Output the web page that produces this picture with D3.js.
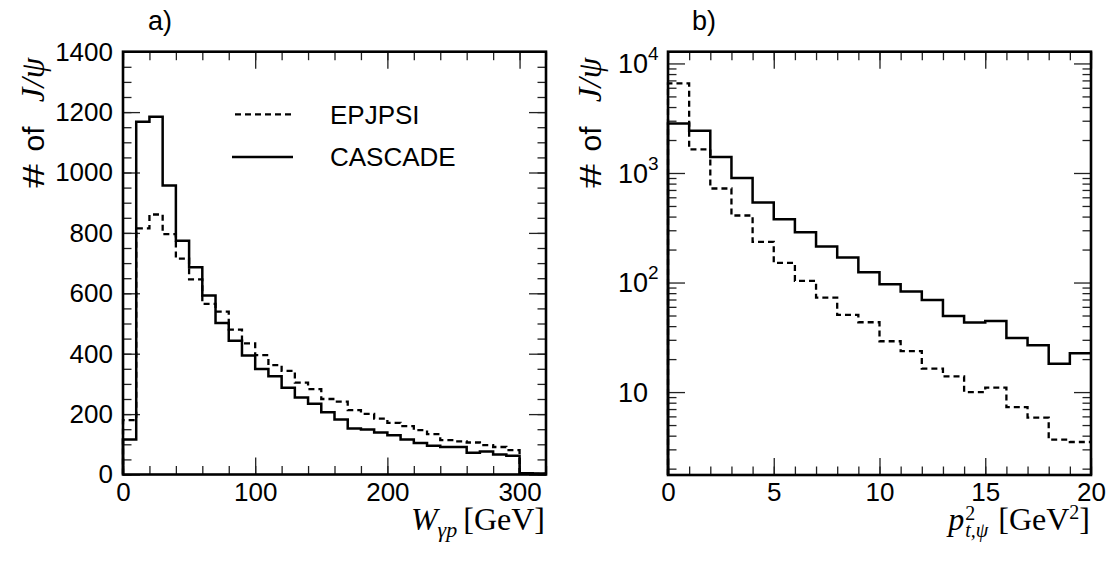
<!DOCTYPE html>
<html><head><meta charset="utf-8">
<script src="https://cdn.jsdelivr.net/npm/d3@7"></script>
<style>
body{margin:0;background:#fff}
text{fill:#000}
.sans{font-family:"Liberation Sans",Arial,sans-serif}
.serif{font-family:"Liberation Serif","DejaVu Serif",serif}
</style>
</head><body>
<svg id="c" width="1112" height="562"></svg>
<script>
// ---------- data ----------
const wBins = [0,10,20,30,40,50,60,70,80,90,100,110,120,130,140,150,160,170,180,190,200,210,220,230,240,250,260,270,280,290,300,310];
const wBinWidth = 10;
const cascadeW = [116,1168,1185,957,774,686,593,502,443,394,349,325,287,255,234,206,182,152,149,139,130,116,104,95,91,91,72,76,66,62,4,3];
const epjpsiW  = [180,815,861,796,715,646,565,539,480,434,395,362,343,304,283,250,241,213,201,185,171,160,147,134,114,110,106,97,91,81,4,2];

const ptBins = [0,1,2,3,4,5,6,7,8,9,10,11,12,13,14,15,16,17,18,19];
const ptBinWidth = 1;
const cascadePt = [2830,2424,1403,902,538,378,288,213,169,124,96.5,82.8,69.4,49.5,43.1,44.6,31.2,26.7,18.1,22.6];
const epjpsiPt  = [6566,1640,722,409,235,151,103.5,72.9,50.6,43.4,29.1,23.7,16.4,13.9,10,11.0,7.3,5.85,3.68,3.5];

const wTicks = [0,100,200,300];
const wTicksMinor = d3.range(0,321,20);
const wYTicks = [0,200,400,600,800,1000,1200,1400];
const wYTicksMinor = d3.range(0,1401,50);
const ptTicks = [0,5,10,15,20];
const ptTicksMinor = d3.range(0,21,1);
const ptYTicks = [10,100,1000,10000];
const ptYLabels = [["10",""],["10","2"],["10","3"],["10","4"]];
const legendNames = ["EPJPSI","CASCADE"];

// ---------- setup ----------
const svg = d3.select("#c");
const DASH = "6,4";

function histPath(bins, vals, bw, x, y, y0) {
  const pts = [];
  pts.push([bins[0], y0]);
  bins.forEach((b,i)=>{ pts.push([b, vals[i]]); pts.push([b+bw, vals[i]]); });
  return d3.line().x(d=>x(d[0])).y(d=>y(d[1]))(pts);
}

function frameAxes(g, x, y, xMaj, xMin, yMaj, yMin, isLog) {
  const [x0,x1] = x.range(), [y0,y1] = y.range();
  const tickStyle = sel => { sel.select(".domain").remove();
    sel.selectAll(".tick line").attr("stroke","#222").attr("stroke-width",1.3); };
  g.append("g").attr("transform",`translate(0,${y0})`)
    .call(d3.axisBottom(x).tickValues(xMin).tickSize(-8.5).tickFormat("")).call(tickStyle);
  g.append("g").attr("transform",`translate(0,${y0})`)
    .call(d3.axisBottom(x).tickValues(xMaj).tickSize(-17).tickPadding(8).tickFormat(d3.format("d")))
    .call(tickStyle)
    .call(s=>s.selectAll("text").attr("class","sans").attr("font-size",26).attr("fill","#000"));
  g.append("g").attr("transform",`translate(0,${y1})`)
    .call(d3.axisTop(x).tickValues(xMin).tickSize(-8.5).tickFormat("")).call(tickStyle);
  g.append("g").attr("transform",`translate(0,${y1})`)
    .call(d3.axisTop(x).tickValues(xMaj).tickSize(-17).tickFormat("")).call(tickStyle);
  g.append("g").attr("transform",`translate(${x0},0)`)
    .call(d3.axisLeft(y).tickValues(yMin).tickSize(-8.5).tickFormat("")).call(tickStyle);
  g.append("g").attr("transform",`translate(${x0},0)`)
    .call(d3.axisLeft(y).tickValues(yMaj).tickSize(-17).tickPadding(10)
      .tickFormat(isLog ? ()=>"" : d3.format("d")))
    .call(tickStyle)
    .call(s=>s.selectAll("text").attr("class","sans").attr("font-size",26).attr("fill","#000"))
    .call(s=>{ if(isLog) s.selectAll("text").remove(); });
  g.append("g").attr("transform",`translate(${x1},0)`)
    .call(d3.axisRight(y).tickValues(yMin).tickSize(-8.5).tickFormat("")).call(tickStyle);
  g.append("g").attr("transform",`translate(${x1},0)`)
    .call(d3.axisRight(y).tickValues(yMaj).tickSize(-17).tickFormat("")).call(tickStyle);
}

function yTitle(g, xb) {
  const pieces = [
    {t:"#",  font:'"Liberation Serif",serif', size:32, italic:false, yc:176, sx:1.55},
    {t:"of", font:'"Liberation Sans",Arial,sans-serif', size:30, italic:false, yc:139, sx:1},
    {t:"J/ψ",font:'"Liberation Serif","DejaVu Serif",serif', size:33, italic:true, yc:80, sx:1}
  ];
  pieces.forEach(p=>{
    g.append("text").attr("transform",`translate(${xb},${p.yc}) rotate(-90) scale(${p.sx},1)`)
      .attr("text-anchor","middle").attr("font-family",p.font).attr("font-size",p.size)
      .attr("font-style",p.italic?"italic":"normal").text(p.t);
  });
}

// ---------- panel a ----------
const xW = d3.scaleLinear([0,320],[123,546]);
const yW = d3.scaleLinear([0,1400],[474.5,51.7]);
const gA = svg.append("g");
frameAxes(gA, xW, yW, wTicks, wTicksMinor, wYTicks, wYTicksMinor, false);

gA.append("path").attr("d", histPath(wBins, epjpsiW, wBinWidth, xW, yW, 0))
  .attr("fill","none").attr("stroke","#000").attr("stroke-width",2.3).attr("stroke-dasharray",DASH);
gA.append("path").attr("d", histPath(wBins, cascadeW, wBinWidth, xW, yW, 0))
  .attr("fill","none").attr("stroke","#000").attr("stroke-width",2.5);
gA.append("rect").attr("x",123).attr("y",51.7).attr("width",423).attr("height",422.8)
  .attr("fill","none").attr("stroke","#000").attr("stroke-width",2.6);

[[legendNames[0],114.3,DASH,235],[legendNames[1],157,null,232]].forEach(([name,yy,dash,lx])=>{
  gA.append("line").attr("x1",lx).attr("x2",293).attr("y1",yy).attr("y2",yy)
    .attr("stroke","#000").attr("stroke-width",2.3).attr("stroke-dasharray",dash);
  gA.append("text").attr("class","sans").attr("font-size",26).attr("x",330).attr("y",yy).attr("dy","0.36em").text(name);
});

gA.append("text").attr("class","sans").attr("font-size",27).attr("x",148).attr("y",30).text("a)");
yTitle(gA, 44);
{
  const t = gA.append("text").attr("x",545).attr("y",530).attr("text-anchor","end").attr("class","serif").attr("font-size",32);
  t.append("tspan").attr("font-style","italic").text("W");
  t.append("tspan").attr("font-style","italic").attr("font-size",22).attr("dy",7).text("γp");
  t.append("tspan").attr("dy",-7).attr("dx",6).text("[GeV]");
}

// ---------- panel b ----------
const xP = d3.scaleLinear([0,20],[668,1091]);
const yP = d3.scaleLog([1.75,12800],[475,51.7]);
const gB = svg.append("g");
const logMinor = [];
[1,10,100,1000].forEach(dec=>{ for(let k=2;k<=9;k++){ const v=k*dec; if(v>=1.75 && v<=12800) logMinor.push(v);} });
frameAxes(gB, xP, yP, ptTicks, ptTicksMinor, ptYTicks, logMinor, true);

gB.append("path").attr("d", histPath(ptBins, epjpsiPt, ptBinWidth, xP, yP, 1.75))
  .attr("fill","none").attr("stroke","#000").attr("stroke-width",2.3).attr("stroke-dasharray",DASH);
gB.append("path").attr("d", histPath(ptBins, cascadePt, ptBinWidth, xP, yP, 1.75))
  .attr("fill","none").attr("stroke","#000").attr("stroke-width",2.5);
gB.append("rect").attr("x",668).attr("y",51.7).attr("width",423).attr("height",423.3)
  .attr("fill","none").attr("stroke","#000").attr("stroke-width",2.6);

ptYTicks.forEach((v,i)=>{
  const t = gB.append("text").attr("class","sans").attr("font-size",27)
    .attr("x",618).attr("y",yP(v)).attr("dy","0.36em");
  t.append("tspan").text(ptYLabels[i][0]);
  if (ptYLabels[i][1]) t.append("tspan").attr("font-size",19).attr("dy",-13).text(ptYLabels[i][1]);
});

gB.append("text").attr("class","sans").attr("font-size",27).attr("x",692).attr("y",30).text("b)");
yTitle(gB, 601);
{
  const t = gB.append("text").attr("x",1090).attr("y",530).attr("text-anchor","end").attr("class","serif").attr("font-size",32);
  t.append("tspan").attr("font-style","italic").text("p");
  t.append("tspan").attr("font-size",20).attr("dy",-10).attr("dx",1).text("2");
  t.append("tspan").attr("font-style","italic").attr("font-size",20).attr("dx",-10).attr("dy",17).text("t,ψ");
  t.append("tspan").attr("dy",-7).attr("dx",10).text("[GeV");
  t.append("tspan").attr("font-size",20).attr("dy",-11).text("2");
  t.append("tspan").attr("dy",11).text("]");
}
</script>
</body></html>
